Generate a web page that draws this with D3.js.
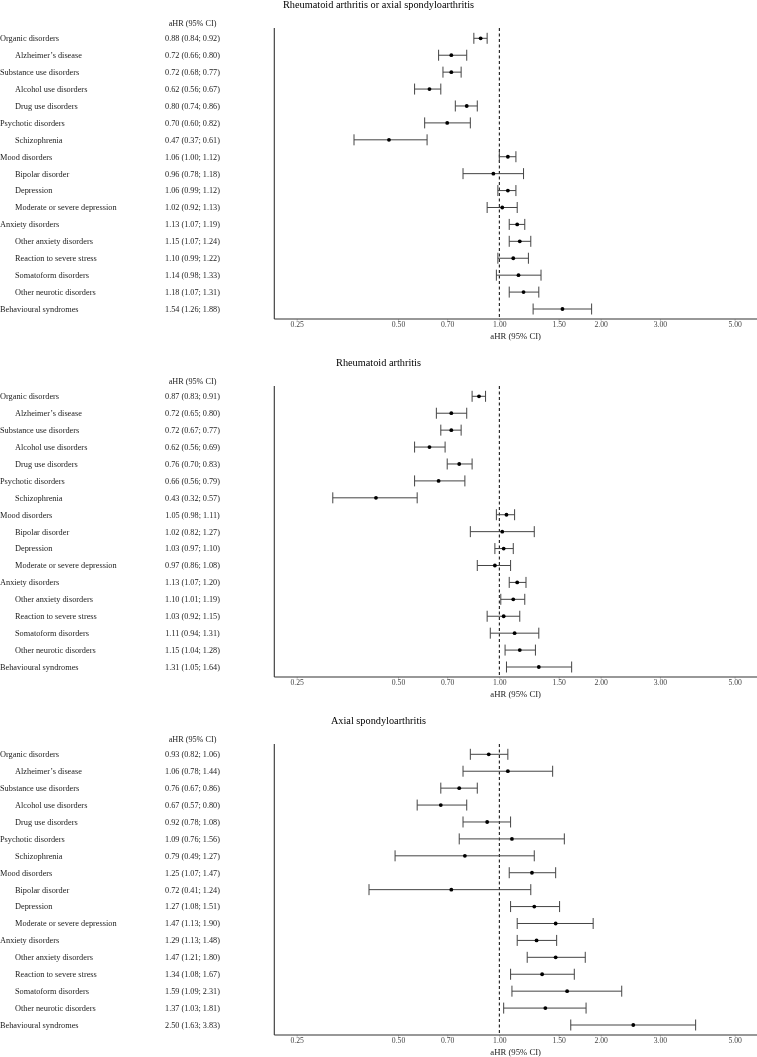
<!DOCTYPE html>
<html>
<head>
<meta charset="utf-8">
<script src="https://cdn.jsdelivr.net/npm/d3@7"></script>
<style>
  html, body { margin: 0; padding: 0; background: #fff; }
  svg { display: block; font-family: "Liberation Serif", "Times New Roman", serif; will-change: transform; }
  svg text { font-family: "Liberation Serif", "Times New Roman", serif; }
</style>
</head>
<body>
<svg id="chart" width="757" height="1057"></svg>
<script>
// ---------- data ----------
const categories = [
  "Organic disorders", "Alzheimer\u2019s disease", "Substance use disorders",
  "Alcohol use disorders", "Drug use disorders", "Psychotic disorders",
  "Schizophrenia", "Mood disorders", "Bipolar disorder", "Depression",
  "Moderate or severe depression", "Anxiety disorders", "Other anxiety disorders",
  "Reaction to severe stress", "Somatoform disorders", "Other neurotic disorders",
  "Behavioural syndromes"
];
const indented = [0,1,0,1,1,0,1,0,1,1,1,0,1,1,1,1,0];

const panelTitles = [
  "Rheumatoid arthritis or axial spondyloarthritis",
  "Rheumatoid arthritis",
  "Axial spondyloarthritis"
];

const raAxEst = [0.88,0.72,0.72,0.62,0.80,0.70,0.47,1.06,0.96,1.06,1.02,1.13,1.15,1.10,1.14,1.18,1.54];
const raAxLo  = [0.84,0.66,0.68,0.56,0.74,0.60,0.37,1.00,0.78,0.99,0.92,1.07,1.07,0.99,0.98,1.07,1.26];
const raAxHi  = [0.92,0.80,0.77,0.67,0.86,0.82,0.61,1.12,1.18,1.12,1.13,1.19,1.24,1.22,1.33,1.31,1.88];

const raEst = [0.87,0.72,0.72,0.62,0.76,0.66,0.43,1.05,1.02,1.03,0.97,1.13,1.10,1.03,1.11,1.15,1.31];
const raLo  = [0.83,0.65,0.67,0.56,0.70,0.56,0.32,0.98,0.82,0.97,0.86,1.07,1.01,0.92,0.94,1.04,1.05];
const raHi  = [0.91,0.80,0.77,0.69,0.83,0.79,0.57,1.11,1.27,1.10,1.08,1.20,1.19,1.15,1.31,1.28,1.64];

const axEst = [0.93,1.06,0.76,0.67,0.92,1.09,0.79,1.25,0.72,1.27,1.47,1.29,1.47,1.34,1.59,1.37,2.50];
const axLo  = [0.82,0.78,0.67,0.57,0.78,0.76,0.49,1.07,0.41,1.08,1.13,1.13,1.21,1.08,1.09,1.03,1.63];
const axHi  = [1.06,1.44,0.86,0.80,1.08,1.56,1.27,1.47,1.24,1.51,1.90,1.48,1.80,1.67,2.31,1.81,3.83];

const tickValues = [0.25, 0.50, 0.70, 1.00, 1.50, 2.00, 3.00, 5.00];
const columnHeader = "aHR (95% CI)";
const axisTitle = "aHR (95% CI)";

const panels = [
  { title: panelTitles[0], est: raAxEst, lo: raAxLo, hi: raAxHi },
  { title: panelTitles[1], est: raEst, lo: raLo, hi: raHi },
  { title: panelTitles[2], est: axEst, lo: axLo, hi: axHi }
];

// ---------- layout ----------
const svg = d3.select("#chart");
const panelH = 358;
const plotLeft = 274.3, plotRight = 757;
const fmt = d3.format(".2f");
const serif = "'Liberation Serif', 'Times New Roman', serif";

// log scale: 1.00 at x=499.3, 0.25 at x=296.7
const x = d3.scaleLog().domain([0.25, 5]).range([296.7, 734.6]);

const y = d3.scalePoint().domain(categories).range([38.3, 309]);

panels.forEach((p, pi) => {
  const g = svg.append("g").attr("transform", `translate(0,${pi * panelH})`);
  const axisTop = 28, axisBottom = 319;

  // title
  g.append("text").attr("x", 378.5).attr("y", 8).attr("text-anchor", "middle")
    .attr("font-size", 10.3).attr("fill", "#000").text(p.title);

  // column header
  g.append("text").attr("x", 192.5).attr("y", 26).attr("text-anchor", "middle")
    .attr("font-size", 8.2).attr("fill", "#222").text(columnHeader);

  // row labels
  g.selectAll("text.lab").data(categories).join("text")
    .attr("class", "lab")
    .attr("x", (d, i) => indented[i] ? 15 : 0)
    .attr("y", d => y(d)).attr("dy", "0.35em")
    .attr("font-size", 8.3).attr("fill", "#222").text(d => d);

  // value text
  g.selectAll("text.val").data(categories).join("text")
    .attr("class", "val")
    .attr("x", 192.5).attr("y", d => y(d)).attr("dy", "0.35em")
    .attr("text-anchor", "middle")
    .attr("font-size", 8.2).attr("fill", "#222")
    .text((d, i) => `${fmt(p.est[i])} (${fmt(p.lo[i])}; ${fmt(p.hi[i])})`);

  // axes lines
  g.append("line").attr("x1", plotLeft).attr("x2", plotLeft)
    .attr("y1", axisTop).attr("y2", axisBottom)
    .attr("stroke", "#333").attr("stroke-width", 1.1);
  const xAxis = d3.axisBottom(x).tickValues(tickValues).tickFormat(fmt)
    .tickSizeOuter(0).tickSize(2).tickPadding(0.5);
  const ax = g.append("g").attr("transform", `translate(0,${axisBottom})`).call(xAxis);
  ax.attr("font-family", serif);
  ax.select(".domain").remove();
  ax.selectAll(".tick line").attr("stroke", "#aaa").attr("stroke-width", 0.6);
  ax.selectAll(".tick text").attr("font-size", 7.7).attr("fill", "#444");
  g.append("line").attr("x1", plotLeft).attr("x2", plotRight)
    .attr("y1", axisBottom).attr("y2", axisBottom)
    .attr("stroke", "#333").attr("stroke-width", 1.1);

  // axis title
  g.append("text").attr("x", (plotLeft + plotRight) / 2).attr("y", 338.5)
    .attr("text-anchor", "middle").attr("font-size", 8.7).attr("fill", "#222").text(axisTitle);

  // reference line
  g.append("line").attr("x1", x(1)).attr("x2", x(1))
    .attr("y1", axisTop).attr("y2", axisBottom)
    .attr("stroke", "#000").attr("stroke-width", 1).attr("stroke-dasharray", "3,2.5");

  // CI
  const rows = g.selectAll("g.row").data(categories).join("g").attr("class", "row");
  rows.append("line")
    .attr("x1", (d, i) => x(p.lo[i])).attr("x2", (d, i) => x(p.hi[i]))
    .attr("y1", d => y(d)).attr("y2", d => y(d))
    .attr("stroke", "#444").attr("stroke-width", 1);
  rows.append("line")
    .attr("x1", (d, i) => x(p.lo[i])).attr("x2", (d, i) => x(p.lo[i]))
    .attr("y1", d => y(d) - 5.5).attr("y2", d => y(d) + 5.5)
    .attr("stroke", "#444").attr("stroke-width", 1);
  rows.append("line")
    .attr("x1", (d, i) => x(p.hi[i])).attr("x2", (d, i) => x(p.hi[i]))
    .attr("y1", d => y(d) - 5.5).attr("y2", d => y(d) + 5.5)
    .attr("stroke", "#444").attr("stroke-width", 1);
  rows.append("circle")
    .attr("cx", (d, i) => x(p.est[i])).attr("cy", d => y(d)).attr("r", 1.9)
    .attr("fill", "#000");
});
</script>
</body>
</html>
